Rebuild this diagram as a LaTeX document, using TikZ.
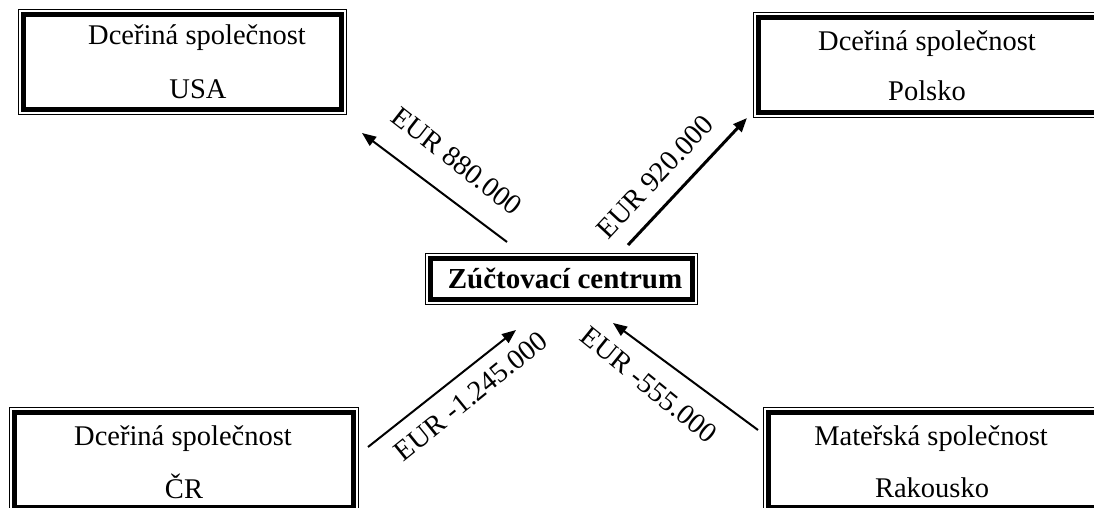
\documentclass[tikz,border=0pt]{standalone}
\usepackage{fontspec}
\setmainfont{Liberation Serif}
\usetikzlibrary{arrows.meta,calc}
% thin outer rule of a thick-thin frame, drawn around a named box
\newcommand\outerframe[1]{%
  \draw[line width=1.2pt] ($(#1.north west)+(-4.85pt,4.85pt)$) rectangle ($(#1.south east)+(4.85pt,-4.85pt)$);}
\begin{document}
\begin{tikzpicture}[x=1pt,y=-1pt,
  firmbox/.style={draw, line width=4.8pt, inner sep=0pt, outer sep=0pt, rectangle},
  txt/.style={font=\fontsize{28.5}{33}\selectfont, inner sep=0pt, anchor=base},
  amount/.style={font=\fontsize{28.5}{33}\selectfont, inner sep=0pt, anchor=center},
  hubtxt/.style={font=\bfseries\fontsize{29}{33}\selectfont, inner sep=0pt, anchor=base},
  flow/.style={line width=2pt, -{Triangle[length=14pt,width=11pt]}}]
\useasboundingbox (0,0) rectangle (1094,508);
\fill[white] (0,0) rectangle (1094,508);
\clip (0,0) rectangle (1094,508);

% subsidiaries and parent company
\node[firmbox, minimum width=318pt, minimum height=95pt] (usa) at (182.5,62) {};
\outerframe{usa}
\node[txt] (usa1) at (197,45) {Dceřiná společnost};
\node[txt] (usa2) at (198,99) {USA};

\node[firmbox, minimum width=341.5pt, minimum height=95pt] (pl) at (929.25,65) {};
\outerframe{pl}
\node[txt] (pl1) at (927,51) {Dceřiná společnost};
\node[txt] (pl2) at (927,101) {Polsko};

\node[firmbox, minimum width=339pt, minimum height=95pt] (cr) at (184,460) {};
\outerframe{cr}
\node[txt] (cr1) at (183,445) {Dceřiná společnost};
\node[txt] (cr2) at (184,498) {ČR};

\node[firmbox, minimum width=331.5pt, minimum height=95pt] (at) at (934.25,460) {};
\outerframe{at}
\node[txt] (at1) at (931,445) {Mateřská společnost};
\node[txt] (at2) at (932,497) {Rakousko};

% clearing centre
\node[firmbox, minimum width=262pt, minimum height=41pt] (hub) at (561.5,279) {};
\outerframe{hub}
\node[hubtxt] (hubt) at (565,288) {Zúčtovací centrum};

% payment flows
\coordinate (f1s) at (507,242); \coordinate (f1e) at (362,133);
\coordinate (f2s) at (628,245); \coordinate (f2e) at (747,118);
\coordinate (f3s) at (368,447); \coordinate (f3e) at (516,330);
\coordinate (f4s) at (758,430); \coordinate (f4e) at (613,323);
\draw[flow] (f1s) -- (f1e);
\draw[flow, line width=3pt] (f2s) -- (f2e);
\draw[flow] (f3s) -- (f3e);
\draw[flow] (f4s) -- (f4e);

\node[amount, rotate=-38] (l1) at (457,161) {EUR 880.000};
\node[amount, rotate=47] (l2) at (655,177) {EUR 920.000};
\node[amount, rotate=39] (l3) at (471,396) {EUR -1.245.000};
\node[amount, rotate=-39] (l4) at (649,385) {EUR -555.000};
\end{tikzpicture}
\end{document}
